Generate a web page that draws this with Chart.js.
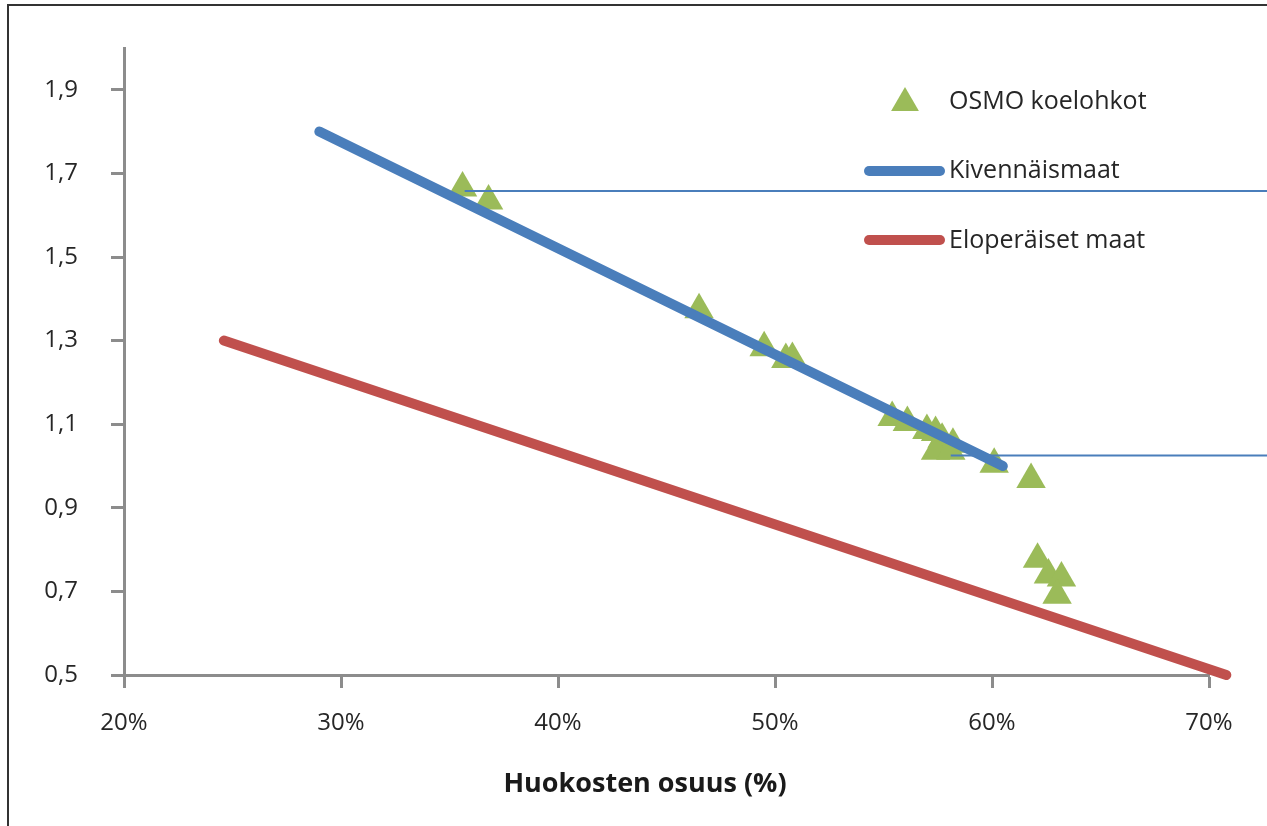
<!DOCTYPE html>
<html>
<head>
<meta charset="utf-8">
<script src="https://cdn.jsdelivr.net/npm/chart.js@4.4.1/dist/chart.umd.min.js"></script>
<style>
  body { margin: 0; background: #fff; }
  #wrap { position: relative; width: 1267px; height: 826px; }
  #frame { position: absolute; left: 7px; top: 4px; right: -10px; bottom: -10px;
           border-left: 2px solid #333; border-top: 2px solid #333; pointer-events: none; }
</style>
</head>
<body>
<div id="wrap">
  <canvas id="chart" width="1267" height="826"></canvas>
  <div id="frame"></div>
</div>
<script>
// OSMO plots: porosity (%) vs bulk density
const osmoPorosity = [35.6, 36.8, 46.5, 49.5, 50.5, 50.8, 55.4, 56.1, 57.0, 57.4, 57.7, 58.2, 57.4, 58.1, 60.1, 61.8, 62.1, 62.6, 63.2, 63.0];
const osmoDensity  = [1.665, 1.634, 1.374, 1.283, 1.255, 1.257, 1.116, 1.104, 1.085, 1.080, 1.064, 1.052, 1.035, 1.035, 1.004, 0.968, 0.777, 0.739, 0.732, 0.691];

// fitted lines
const mineralX = [29, 60.5];
const mineralY = [1.8, 1.0];
const organicX = [24.6, 70.8];
const organicY = [1.3, 0.5];

// thin leader lines in the original image
const leader1X = [35.7, 73];
const leader1Y = [1.658, 1.658];
const leader2X = [58.1, 73];
const leader2Y = [1.025, 1.025];

const xTicks = [20, 30, 40, 50, 60, 70];
const yTicks = [0.5, 0.7, 0.9, 1.1, 1.3, 1.5, 1.7, 1.9];

const legendLabels = ['OSMO koelohkot', 'Kivennäismaat', 'Eloperäiset maat'];
const xTitle = 'Huokosten osuus (%)';

const GREEN = '#9bbb59';
const BLUE = '#4a7ebb';
const RED = '#c0504d';
const AXIS = '#8c8c8c';
const TEXT = '#262626';

const toPoints = (xs, ys) => xs.map((x, i) => ({ x: x, y: ys[i] }));

// Legend + axis title drawn by hand, the original sits a bit left of centre
const legendPlugin = {
  id: 'sideLegend',
  afterDraw(chart) {
    const ctx = chart.ctx;
    ctx.save();
    // triangle marker
    const tx = 905, ty = 103, r = 16;
    ctx.fillStyle = GREEN;
    ctx.beginPath();
    ctx.moveTo(tx, ty - r);
    ctx.lineTo(tx + r * 0.87, ty + r / 2);
    ctx.lineTo(tx - r * 0.87, ty + r / 2);
    ctx.closePath();
    ctx.fill();

    ctx.lineCap = 'round';
    ctx.lineWidth = 10;
    ctx.strokeStyle = BLUE;
    ctx.beginPath(); ctx.moveTo(869, 171); ctx.lineTo(940, 171); ctx.stroke();
    ctx.strokeStyle = RED;
    ctx.beginPath(); ctx.moveTo(869, 240); ctx.lineTo(940, 240); ctx.stroke();

    ctx.fillStyle = TEXT;
    ctx.font = '25px "Open Sans"';
    ctx.textBaseline = 'middle';
    ctx.fillText(legendLabels[0], 949, 102);
    ctx.fillText(legendLabels[1], 949, 171);
    ctx.fillText(legendLabels[2], 949, 241);

    ctx.fillStyle = '#1a1a1a';
    ctx.font = 'bold 27px "Open Sans"';
    ctx.textAlign = 'center';
    ctx.fillText(xTitle, 645, 784);
    ctx.restore();
  }
};

Chart.defaults.font.family = '"Open Sans", sans-serif';
Chart.defaults.color = TEXT;

new Chart(document.getElementById('chart'), {
  type: 'scatter',
  data: {
    datasets: [
      {
        label: legendLabels[1],
        type: 'line',
        data: toPoints(mineralX, mineralY),
        borderColor: BLUE,
        borderWidth: 10,
        borderCapStyle: 'round',
        pointRadius: 0,
        clip: false,
        order: 1
      },
      {
        label: legendLabels[2],
        type: 'line',
        data: toPoints(organicX, organicY),
        borderColor: RED,
        borderWidth: 10,
        borderCapStyle: 'round',
        pointRadius: 0,
        clip: false,
        order: 1
      },
      {
        label: 'leader1',
        type: 'line',
        data: toPoints(leader1X, leader1Y),
        borderColor: BLUE,
        borderWidth: 2,
        pointRadius: 0,
        clip: false,
        order: 2
      },
      {
        label: 'leader2',
        type: 'line',
        data: toPoints(leader2X, leader2Y),
        borderColor: BLUE,
        borderWidth: 2,
        pointRadius: 0,
        clip: false,
        order: 2
      },
      {
        label: legendLabels[0],
        data: toPoints(osmoPorosity, osmoDensity),
        pointStyle: 'triangle',
        pointRadius: 17,
        pointHoverRadius: 17,
        backgroundColor: GREEN,
        borderColor: GREEN,
        borderWidth: 0,
        clip: false,
        order: 3
      }
    ]
  },
  plugins: [legendPlugin],
  options: {
    responsive: false,
    animation: false,
    layout: { padding: { top: 48, right: 58, left: 0, bottom: 0 } },
    plugins: {
      legend: { display: false },
      tooltip: { enabled: false }
    },
    scales: {
      x: {
        type: 'linear',
        min: 20,
        max: 70,
        afterFit: s => { s.height = 151; },
        afterBuildTicks: s => { s.ticks = xTicks.map(v => ({ value: v })); },
        border: { color: AXIS, width: 3 },
        grid: { drawOnChartArea: false, tickLength: 13, tickColor: AXIS, tickWidth: 3 },
        ticks: {
          padding: 21,
          font: { size: 24 },
          color: TEXT,
          maxRotation: 0,
          callback: v => v + '%'
        }
      },
      y: {
        type: 'linear',
        min: 0.5,
        max: 2.0,
        afterFit: s => { s.width = 124; },
        afterBuildTicks: s => { s.ticks = yTicks.map(v => ({ value: v })); },
        border: { color: AXIS, width: 3 },
        grid: { drawOnChartArea: false, tickLength: 13, tickColor: AXIS, tickWidth: 3 },
        ticks: {
          padding: 33,
          font: { size: 24 },
          color: TEXT,
          callback: v => v.toFixed(1).replace('.', ',')
        }
      }
    }
  }
});
</script>
</body>
</html>
